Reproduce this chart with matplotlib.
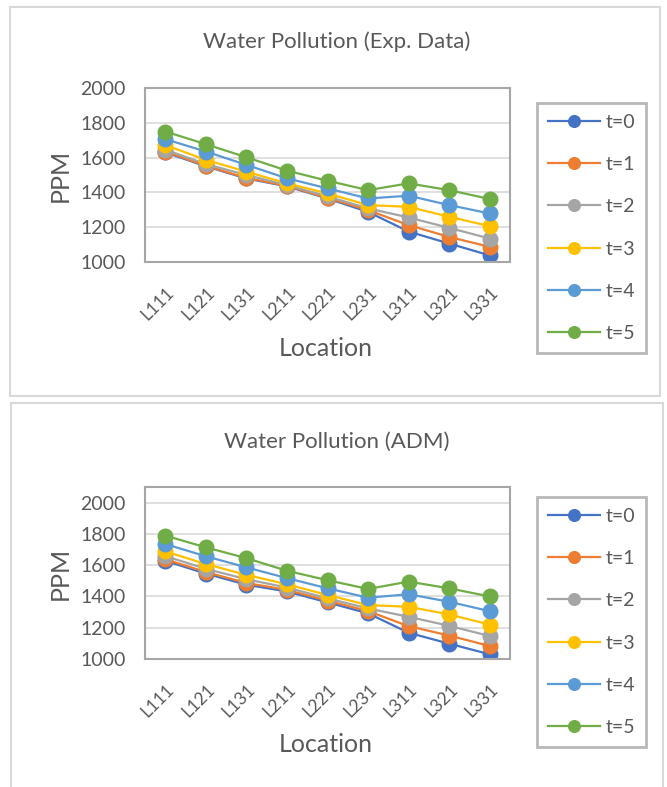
import matplotlib.pyplot as plt
from matplotlib.patches import Rectangle
from matplotlib.transforms import ScaledTranslation

# data
locations = ['L111', 'L121', 'L131', 'L211', 'L221', 'L231', 'L311', 'L321', 'L331']
series_names = ['t=0', 't=1', 't=2', 't=3', 't=4', 't=5']

exp_t0 = [1630, 1550, 1480, 1435, 1365, 1288, 1175, 1106, 1038]
exp_t1 = [1635, 1553, 1483, 1438, 1368, 1298, 1212, 1144, 1087]
exp_t2 = [1645, 1563, 1500, 1442, 1377, 1308, 1256, 1196, 1135]
exp_t3 = [1672, 1587, 1519, 1452, 1394, 1327, 1317, 1260, 1206]
exp_t4 = [1706, 1635, 1558, 1481, 1423, 1365, 1381, 1327, 1279]
exp_t5 = [1750, 1677, 1602, 1525, 1467, 1413, 1452, 1413, 1362]

adm_t0 = [1628, 1546, 1475, 1432, 1362, 1292, 1168, 1098, 1030]
adm_t1 = [1638, 1556, 1486, 1442, 1373, 1306, 1210, 1150, 1083]
adm_t2 = [1658, 1577, 1510, 1457, 1388, 1323, 1270, 1212, 1147]
adm_t3 = [1688, 1607, 1538, 1478, 1409, 1345, 1334, 1285, 1220]
adm_t4 = [1735, 1657, 1586, 1517, 1452, 1392, 1414, 1366, 1306]
adm_t5 = [1789, 1714, 1645, 1564, 1504, 1448, 1495, 1452, 1400]

colors = ['#4472C4', '#ED7D31', '#A5A5A5', '#FFC000', '#5B9BD5', '#70AD47']
txt = '#595959'
plt.rcParams['font.family'] = ['Lato', 'DejaVu Sans']

W, H = 667, 787
fig = plt.figure(figsize=(W / 100, H / 100), dpi=100)

def fx(x):
    return x / W

def fy(y):
    return 1 - y / H

# chart frames
fig.patches.append(Rectangle((fx(10), fy(396)), fx(650), 389 / H, transform=fig.transFigure,
                             fill=False, edgecolor='#D9D9D9', lw=1.5))
fig.patches.append(Rectangle((fx(11), fy(800)), fx(652), 397 / H, transform=fig.transFigure,
                             fill=False, edgecolor='#D9D9D9', lw=1.5))

def draw(top, bottom, data, ymax, title, title_y, loc_y, leg_top):
    ax = fig.add_axes([fx(145), fy(bottom), fx(365), (bottom - top) / H])
    x = list(range(len(locations)))
    handles = []
    for vals, c, name in zip(data, colors, series_names):
        h, = ax.plot(x, vals, color=c, lw=1.6, marker='o', ms=10.5, label=name)
        handles.append(h)
    ax.set_xlim(-0.5, len(locations) - 0.5)
    ax.set_ylim(1000, ymax)
    ax.set_yticks(range(1000, 2001, 200))
    ax.set_xticks(x)
    ax.set_xticklabels(locations, rotation=45, ha='right', va='center', rotation_mode='anchor')
    ax.tick_params(length=0, labelcolor=txt)
    ax.tick_params(axis='y', pad=14, labelsize=14)
    ax.tick_params(axis='x', pad=20, labelsize=12.5)
    for lab in ax.get_xticklabels():
        lab.set_transform(lab.get_transform() + ScaledTranslation(6 / 100, 0, fig.dpi_scale_trans))
    ax.grid(axis='y', color='#D9D9D9', lw=1.2)
    ax.set_axisbelow(True)
    for s in ax.spines.values():
        s.set_color('#A6A6A6')
        s.set_linewidth(1.5)
    ax.set_ylabel('PPM', fontsize=18, color=txt)
    ax.yaxis.set_label_coords(fx(72 - 145) / fx(365), 0.5)
    fig.text(fx(337), fy(title_y), title, ha='center', va='center', fontsize=16, color=txt)
    fig.text(fx(326), fy(loc_y), 'Location', ha='center', va='center', fontsize=18, color=txt)
    leg = fig.legend(handles=handles, loc='upper left', bbox_to_anchor=(fx(537), fy(leg_top)),
                     fontsize=14, labelcolor=txt, frameon=True, fancybox=False,
                     handlelength=2.7, handletextpad=0.3, labelspacing=1.3,
                     borderpad=0.55, borderaxespad=0, markerscale=0.8)
    leg.get_frame().set_edgecolor('#A6A6A6')
    leg.get_frame().set_linewidth(2)

draw(88, 262, [exp_t0, exp_t1, exp_t2, exp_t3, exp_t4, exp_t5],
     2000, 'Water Pollution (Exp. Data)', 42, 348, 103)
draw(487, 659, [adm_t0, adm_t1, adm_t2, adm_t3, adm_t4, adm_t5],
     2100, 'Water Pollution (ADM)', 442, 744, 497)

fig.savefig('out.png', dpi=100)
